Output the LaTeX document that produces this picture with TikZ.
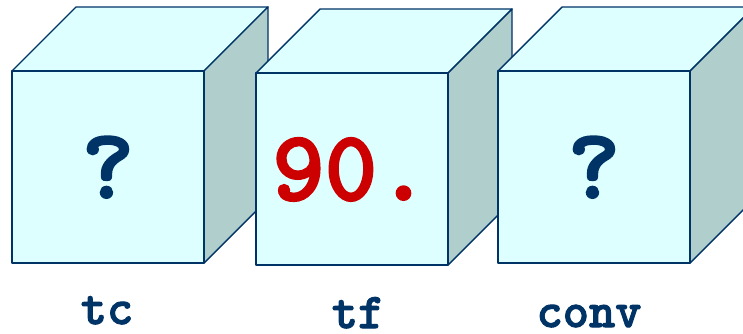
\documentclass[tikz,border=0pt]{standalone}
\usepackage{fontspec}
\newfontfamily\cubefont[FakeBold=2]{lmmonolt10-bold.otf}
\definecolor{cubeblue}{RGB}{0,51,102}
\definecolor{cubefront}{RGB}{221,255,255}
\definecolor{cubeside}{RGB}{175,206,204}
\definecolor{cubered}{RGB}{204,0,0}
\usetikzlibrary{positioning}

\begin{document}
\begin{tikzpicture}[x=1pt,y=-1pt,
    face/.style={draw=cubeblue,line width=1.4pt,line join=round},
    value/.style={font=\cubefont\fontsize{100}{100}\selectfont,anchor=base},
    varname/.style={font=\cubefont\fontsize{50}{50}\selectfont,text=cubeblue,anchor=base}]

        % Moldura
        \useasboundingbox (0,0) rectangle (743,333);
        \clip (0,0) rectangle (743,333);

        % Cubos (desenhados da esquerda para a direita)
        \foreach \nm/\cx/\cy in {tc/12/71, tf/256/73, conv/498/71}{
            \fill[cubefront,face] (\cx,\cy) -- ++(64,-64) -- ++(192,0) -- ++(-64,64) -- cycle;
            \fill[cubeside,face] (\cx+192,\cy) -- ++(64,-64) -- ++(0,192) -- ++(-64,64) -- cycle;
            \filldraw[cubefront,face] (\cx,\cy) rectangle ++(192,192);
            \coordinate (\nm-c) at (\cx+96,\cy+127);
        }

        % Valores
        \node[value,text=cubeblue] (tc-val) at (tc-c) {?};
        \node[value,text=cubered] (tf-val) at ([xshift=-1pt]tf-c) {90.};
        \node[value,text=cubeblue] (conv-val) at (conv-c) {?};

        % Nomes das variaveis
        \node[varname] (tc-name) at (107,324) {tc};
        \node[varname] (tf-name) at (358,328) {tf};
        \node[varname] (conv-name) at (589,327) {conv};

    \end{tikzpicture}
\end{document}
